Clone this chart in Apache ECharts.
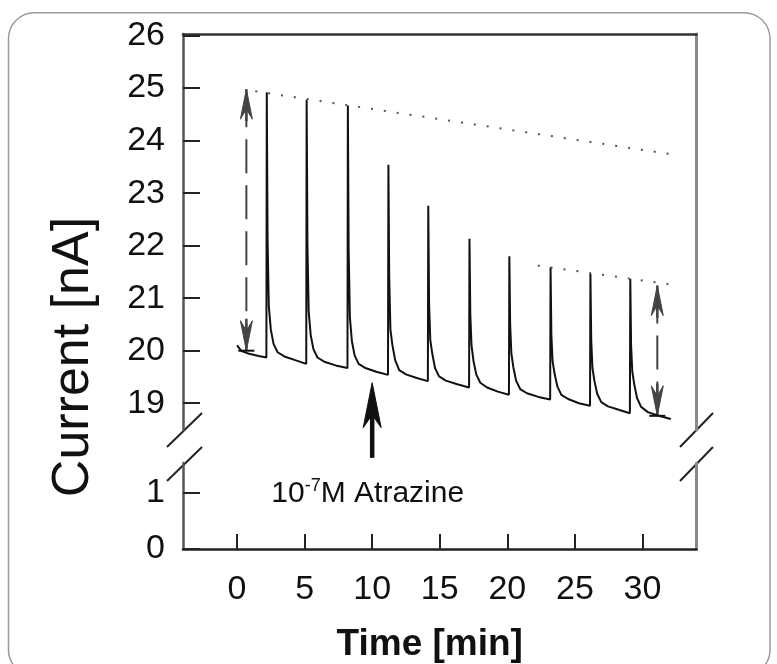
<!DOCTYPE html>
<html><head><meta charset="utf-8">
<script src="https://cdn.jsdelivr.net/npm/echarts@6/dist/echarts.min.js"></script>
<style>html,body{margin:0;padding:0;background:#fff}#c{width:777px;height:664px}</style>
</head><body><div id="c"></div>
<script>
// ---- data ----
const traceTime = [
  0.0, 0.3, 0.9, 1.6, 2.17,
  2.2, 2.26, 2.35, 2.5, 2.7, 3.0, 3.5, 4.3, 5.12,
  5.15, 5.21, 5.3, 5.45, 5.65, 5.95, 6.45, 7.3, 8.17,
  8.2, 8.26, 8.35, 8.5, 8.7, 9.0, 9.5, 10.3, 11.17,
  11.2, 11.26, 11.35, 11.5, 11.7, 12.0, 12.5, 13.3, 14.12,
  14.15, 14.21, 14.3, 14.45, 14.65, 14.95, 15.45, 16.3, 17.17,
  17.2, 17.26, 17.35, 17.5, 17.7, 18.0, 18.5, 19.3, 20.12,
  20.15, 20.21, 20.3, 20.45, 20.65, 20.95, 21.45, 22.3, 23.17,
  23.2, 23.26, 23.35, 23.5, 23.7, 24.0, 24.5, 25.3, 26.12,
  26.15, 26.21, 26.3, 26.45, 26.65, 26.95, 27.45, 28.3, 29.07,
  29.1, 29.16, 29.25, 29.4, 29.6, 29.9, 30.4, 31.2, 32.1
];
const traceCurrent = [
  20.1, 20.0, 19.94, 19.9, 19.87,
  24.92, 22.1, 20.85, 20.4, 20.13, 19.97, 19.89, 19.82, 19.75,
  24.78, 22.0, 20.75, 20.3, 20.03, 19.87, 19.79, 19.72, 19.67,
  24.67, 21.9, 20.63, 20.18, 19.91, 19.75, 19.67, 19.6, 19.54,
  23.54, 21.4, 20.4, 20.1, 19.82, 19.63, 19.55, 19.48, 19.42,
  22.76, 20.9, 20.2, 19.94, 19.67, 19.51, 19.43, 19.36, 19.30,
  22.13, 20.7, 20.1, 19.8, 19.55, 19.39, 19.3, 19.22, 19.16,
  21.80, 20.5, 19.95, 19.68, 19.43, 19.27, 19.19, 19.12, 19.07,
  21.59, 20.3, 19.8, 19.56, 19.32, 19.16, 19.08, 19.0, 18.95,
  21.46, 20.2, 19.67, 19.42, 19.18, 19.02, 18.94, 18.87, 18.81,
  21.37, 20.1, 19.6, 19.35, 19.1, 18.93, 18.83, 18.76, 18.70
];
const upperEnvTime = [1.35, 32.4];
const upperEnvCurrent = [24.94, 23.73];
const lowerEnvTime = [22.25, 32.4];
const lowerEnvCurrent = [21.62, 21.25];
const rangeArrowTime = [0.69, 31.1];
const rangeArrowTop = [24.98, 21.24];
const rangeArrowBottom = [20.0, 18.76];
const injectionTime = [10];
const injectionTip = [19.39];
const injectionTail = [17.96];
const injectionLabelTime = [9.67];
const injectionLabelCurrent = [1.0];
const xTicks = [0, 5, 10, 15, 20, 25, 30];
const yTicksUpper = [19, 20, 21, 22, 23, 24, 25, 26];
const yTicksLower = [0, 1];

// ---- build ----
const FONT = '"Liberation Sans", Arial, Helvetica, sans-serif';
const zip = (a, b) => a.map((v, i) => [v, b[i]]);

const chart = echarts.init(document.getElementById('c'), null, {renderer: 'canvas'});

const lineColor = '#222';
function yAxisBase(grid, min, max, ticks) {
  return {
    type: 'value', gridIndex: grid, min: min, max: max, position: 'left',
    axisLine: {show: true, onZero: false, lineStyle: {color: '#555', width: 2.5}},
    axisTick: {show: true, inside: true, length: 17, customValues: ticks, lineStyle: {color: lineColor, width: 2}},
    axisLabel: {show: true, customValues: ticks, fontSize: 34, fontFamily: FONT, color: '#111', margin: 18},
    splitLine: {show: false}
  };
}
function rightLine(grid, min, max) {
  return {
    type: 'value', gridIndex: grid, min: min, max: max, position: 'right',
    axisLine: {show: true, onZero: false, lineStyle: {color: '#888', width: 3}},
    axisTick: {show: false}, axisLabel: {show: false}, splitLine: {show: false}
  };
}

function arrowHead(x, y, dir, w, len, notch, color) {
  // dir = -1 : pointing up ; +1 : pointing down
  return {
    type: 'polygon',
    shape: {points: [[x, y], [x - w, y - dir * len], [x, y - dir * notch], [x + w, y - dir * len]]},
    style: {fill: color, stroke: color, lineWidth: 1}
  };
}

const option = {
  animation: false,
  backgroundColor: '#fff',
  grid: [
    {left: 183, width: 513.5, top: 34, height: 396},
    {left: 183, width: 513.5, top: 463, height: 86}
  ],
  xAxis: [
    {type: 'value', gridIndex: 0, min: -4, max: 34, position: 'top',
     axisLine: {show: true, onZero: false, lineStyle: {color: '#333', width: 2.5}},
     axisTick: {show: false}, axisLabel: {show: false}, splitLine: {show: false}},
    {type: 'value', gridIndex: 1, min: -4, max: 34, position: 'bottom',
     axisLine: {show: true, onZero: false, lineStyle: {color: lineColor, width: 2.5}},
     axisTick: {show: true, inside: true, length: 15, customValues: xTicks, lineStyle: {color: lineColor, width: 2}},
     axisLabel: {show: true, customValues: xTicks, fontSize: 34, fontFamily: FONT, color: '#111', margin: 24},
     splitLine: {show: false},
     name: 'Time [min]', nameLocation: 'middle', nameGap: 77,
     nameTextStyle: {fontSize: 37, fontWeight: 'bold', fontFamily: FONT, color: '#111', padding: [0, 20, 0, 0]}}
  ],
  yAxis: [
    yAxisBase(0, 18.49, 26.03, yTicksUpper),
    rightLine(0, 18.49, 26.03),
    yAxisBase(1, 0, 1.53, yTicksLower),
    rightLine(1, 0, 1.53)
  ],
  series: [
    {type: 'line', xAxisIndex: 0, yAxisIndex: 0, data: zip(traceTime, traceCurrent),
     showSymbol: false, symbol: 'none', lineStyle: {color: '#111', width: 2}, z: 3},
    {type: 'line', xAxisIndex: 0, yAxisIndex: 0, data: zip(upperEnvTime, upperEnvCurrent),
     showSymbol: false, symbol: 'none', lineStyle: {color: '#555', width: 2, type: [2, 11]}},
    {type: 'line', xAxisIndex: 0, yAxisIndex: 0, data: zip(lowerEnvTime, lowerEnvCurrent),
     showSymbol: false, symbol: 'none', lineStyle: {color: '#555', width: 2, type: [2, 11]}},
    {type: 'custom', xAxisIndex: 0, yAxisIndex: 0, clip: false,
     data: rangeArrowTime.map((t, i) => [t, rangeArrowTop[i], rangeArrowBottom[i]]),
     renderItem: function (params, api) {
       const top = api.coord([api.value(0), api.value(1)]);
       const bot = api.coord([api.value(0), api.value(2)]);
       const c = '#444';
       return {type: 'group', children: [
         {type: 'line', shape: {x1: top[0], y1: top[1] + 4, x2: bot[0], y2: bot[1] - 4},
          style: {stroke: c, lineWidth: 2, lineDash: [34, 12]}},
         arrowHead(top[0], top[1], -1, 6, 30, 20, c),
         arrowHead(bot[0], bot[1], 1, 6, 30, 20, c),
         {type: 'line', shape: {x1: top[0], y1: top[1], x2: top[0], y2: top[1] + 32}, style: {stroke: c, lineWidth: 2.5}},
         {type: 'line', shape: {x1: bot[0], y1: bot[1], x2: bot[0], y2: bot[1] - 32}, style: {stroke: c, lineWidth: 2.5}},
         {type: 'line', shape: {x1: bot[0] - 8, y1: bot[1], x2: bot[0] + 8, y2: bot[1]}, style: {stroke: '#111', lineWidth: 2}}
       ]};
     }},
    {type: 'custom', xAxisIndex: 0, yAxisIndex: 0, clip: false,
     data: injectionTime.map((t, i) => [t, injectionTip[i], injectionTail[i]]),
     renderItem: function (params, api) {
       const tip = api.coord([api.value(0), api.value(1)]);
       const tail = api.coord([api.value(0), api.value(2)]);
       return {type: 'group', children: [
         {type: 'line', shape: {x1: tip[0], y1: tip[1] + 20, x2: tail[0], y2: tail[1]}, style: {stroke: '#111', lineWidth: 4.5}},
         arrowHead(tip[0], tip[1], -1, 9, 45, 32, '#111')
       ]};
     }},
    {type: 'custom', xAxisIndex: 1, yAxisIndex: 2, clip: false,
     data: injectionLabelTime.map((t, i) => [t, injectionLabelCurrent[i]]),
     renderItem: function (params, api) {
       const p = api.coord([api.value(0), api.value(1)]);
       return {type: 'text', x: p[0], y: p[1],
         style: {
           text: '{a|10}{s|-7}{a|M Atrazine}',
           align: 'center', verticalAlign: 'middle',
           rich: {
             a: {fontSize: 30, fontFamily: FONT, fill: '#111', color: '#111', lineHeight: 32, verticalAlign: 'bottom'},
             s: {fontSize: 18, fontFamily: FONT, fill: '#111', color: '#111', lineHeight: 18, verticalAlign: 'top'}
           }
         }};
     }}
  ],
  graphic: [
    {type: 'rect', silent: true, z: -10,
     shape: {x: 8.5, y: 12.7, width: 761.5, height: 663, r: 26},
     style: {fill: 'none', stroke: '#9a9a9a', lineWidth: 1.5}},
    {type: 'text', x: 74, y: 357, rotation: Math.PI / 2, silent: true,
     style: {text: 'Current [nA]', font: '52px ' + FONT, fill: '#111',
             textAlign: 'center', textVerticalAlign: 'middle', align: 'center', verticalAlign: 'middle'}},
    {type: 'line', silent: true, shape: {x1: 167, y1: 447, x2: 202, y2: 413}, style: {stroke: '#222', lineWidth: 2}},
    {type: 'line', silent: true, shape: {x1: 167, y1: 481, x2: 202, y2: 447}, style: {stroke: '#222', lineWidth: 2}},
    {type: 'line', silent: true, shape: {x1: 680, y1: 447, x2: 713, y2: 413}, style: {stroke: '#222', lineWidth: 2}},
    {type: 'line', silent: true, shape: {x1: 680, y1: 481, x2: 713, y2: 447}, style: {stroke: '#222', lineWidth: 2}}
  ]
};
chart.setOption(option);
</script>
</body></html>
